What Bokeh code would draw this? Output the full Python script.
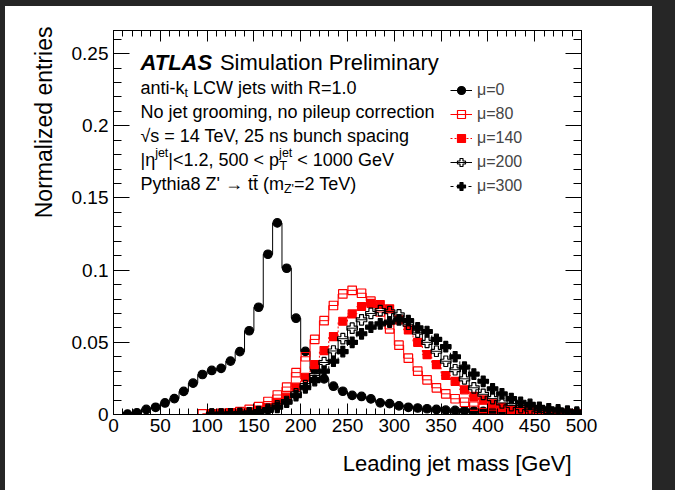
from bokeh.plotting import figure
from bokeh.models import (Range1d, LinearAxis, FixedTicker, Label, Legend, LegendItem,
                          CustomJSTickFormatter, Spacer, Title)
from bokeh.layouts import row, column
from bokeh.embed import file_html
from bokeh.resources import INLINE

# ---------------- data ----------------
bin_centers = list(range(5, 500, 10))   # 10 GeV bins, centres 5..495

mu0 = [0.0003, 0.0012, 0.0035, 0.005, 0.008, 0.011, 0.016, 0.0217, 0.0277, 0.0305,
       0.032, 0.037, 0.0436, 0.058, 0.0743, 0.111, 0.1327, 0.1013, 0.0667, 0.0437,
       0.031, 0.0247, 0.0196, 0.0161, 0.0132, 0.0125, 0.0108, 0.0081, 0.0075, 0.006,
       0.005, 0.0045, 0.004, 0.0035, 0.003, 0.0028, 0.0026, 0.0024, 0.0022, 0.0021,
       0.002, 0.0019, 0.0018, 0.0017, 0.0016, 0.0015, 0.0014, 0.0013, 0.0012]      # 15..495
mu80 = [0.0005, 0.0005, 0.0008, 0.0012, 0.002, 0.0035, 0.0055, 0.009, 0.0135, 0.019,
        0.029, 0.040, 0.052, 0.065, 0.0755, 0.0835, 0.086, 0.084, 0.0785, 0.071,
        0.0593, 0.048, 0.039, 0.030, 0.024, 0.0185, 0.0143, 0.0109, 0.0085, 0.0058,
        0.0042, 0.003, 0.0023, 0.0018, 0.0014, 0.0011, 0.0009, 0.0007, 0.0006, 0.0005,
        0.0004]                                                                      # 95..495
mu140 = [0.0003, 0.0005, 0.0007, 0.001, 0.0018, 0.003, 0.005, 0.0085, 0.012, 0.0189,
         0.0258, 0.0346, 0.0443, 0.054, 0.0646, 0.0697, 0.0748, 0.077, 0.0762, 0.0732,
         0.0656, 0.0586, 0.050, 0.0415, 0.0346, 0.027, 0.023, 0.0171, 0.0125, 0.0101,
         0.0074, 0.005, 0.0032, 0.0025, 0.002, 0.0015, 0.0012, 0.001, 0.0008, 0.0007]  # 105..495
mu200 = [0.0002, 0.0003, 0.0005, 0.0008, 0.0012, 0.002, 0.0035, 0.006, 0.009, 0.0143,
         0.020, 0.027, 0.036, 0.044, 0.0525, 0.0598, 0.0656, 0.070, 0.072, 0.0712,
         0.069, 0.0625, 0.057, 0.050, 0.0438, 0.0369, 0.031, 0.0247, 0.0185, 0.014,
         0.011, 0.008, 0.0062, 0.0048, 0.0037, 0.0028, 0.0022, 0.0017, 0.0013, 0.001]  # 105..495
mu300 = [0.0002, 0.0002, 0.0003, 0.0005, 0.0008, 0.0015, 0.0028, 0.005, 0.0085, 0.013,
         0.0185, 0.0235, 0.030, 0.0369, 0.0436, 0.050, 0.0559, 0.0605, 0.0628, 0.064,
         0.0656, 0.065, 0.060, 0.0575, 0.052, 0.047, 0.040, 0.0328, 0.028, 0.023,
         0.0178, 0.0143, 0.011, 0.0085, 0.007, 0.005, 0.004, 0.0032, 0.0023, 0.0016]   # 105..495

series_labels = ["\u03bc=0", "\u03bc=80", "\u03bc=140", "\u03bc=200", "\u03bc=300"]
series_values = [mu0, mu80, mu140, mu200, mu300]

x_ticks = [0, 50, 100, 150, 200, 250, 300, 350, 400, 450, 500]
x_minor = list(range(0, 501, 10))
y_ticks = [0, 0.05, 0.1, 0.15, 0.2, 0.25]
y_tick_labels = ["0", "0.05", "0.1", "0.15", "0.2", "0.25"]
y_minor = [round(0.01 * i, 2) for i in range(27)]

# ---------------- styles ----------------
FONT = "Liberation Sans"
DARK = "#262626"
styles = [
    dict(color="black", dash="solid", marker="circle", fill="black", size=8.5),
    dict(color="red", dash="solid", marker="square", fill=None, size=8.5),
    dict(color="red", dash="2 2", marker="square", fill="red", size=8),
    dict(color="black", dash="solid", marker="plus", fill=None, size=10.5),
    dict(color="black", dash="3 3", marker="plus", fill="black", size=10.5),
]

W, H = 647, 484
p = figure(width=W, height=H, x_range=Range1d(0, 500), y_range=Range1d(0, 0.266),
           output_backend="svg", toolbar_location=None,
           min_border_left=108, min_border_right=71, min_border_top=24, min_border_bottom=76)
p.xgrid.visible = False
p.ygrid.visible = False
p.outline_line_color = "black"
p.outline_line_width = 1
p.background_fill_color = "white"
p.border_fill_color = "white"

blank = CustomJSTickFormatter(code="return ''")

def style_axis(ax, major_in, minor_in, labels=True):
    ax.axis_line_color = "black"
    ax.major_tick_in = major_in
    ax.major_tick_out = 0
    ax.minor_tick_in = minor_in
    ax.minor_tick_out = 0
    ax.major_tick_line_color = "black"
    ax.minor_tick_line_color = "black"
    ax.major_label_text_font = FONT
    ax.major_label_text_color = "black"
    if labels:
        ax.major_label_text_font_size = "19px"
    else:
        ax.formatter = blank
        ax.major_label_text_font_size = "0px"
        ax.major_label_standoff = 0

xt = FixedTicker(ticks=x_ticks, minor_ticks=x_minor)
yt = FixedTicker(ticks=y_ticks, minor_ticks=y_minor)

p.xaxis.ticker = xt
p.yaxis.ticker = yt
p.yaxis.major_label_overrides = dict(zip(y_ticks, y_tick_labels))
style_axis(p.xaxis[0], 11, 6)
style_axis(p.yaxis[0], 16, 8)
p.xaxis.major_label_standoff = 4
p.yaxis.major_label_standoff = 5

top = LinearAxis(ticker=xt)
style_axis(top, 11, 6, labels=False)
p.add_layout(top, "above")
right = LinearAxis(ticker=yt)
style_axis(right, 16, 8, labels=False)
p.add_layout(right, "right")

# axis titles (ROOT style: right / top aligned)
p.add_layout(Title(text="Leading jet mass [GeV]", align="right", offset=10, standoff=29,
                   vertical_align="bottom",
                   text_font=FONT, text_font_size="22px", text_font_style="normal",
                   text_color="black"), "below")
p.add_layout(Title(text="Normalized entries", align="right", offset=-4, standoff=24,
                   text_font=FONT, text_font_size="23px", text_font_style="normal",
                   text_color="black"), "left")

# ---------------- histograms ----------------
items = []
for lab, vals, st in zip(series_labels, series_values, styles):
    xs = bin_centers[-len(vals):]
    lr = p.step(xs, vals, mode="center", line_color=st["color"], line_dash=st["dash"], line_width=1)
    sr = p.scatter(xs, vals, marker=st["marker"], size=st["size"], line_color=st["color"],
                   line_width=1.2,
                   fill_color=st["fill"] if st["fill"] else "white",
                   fill_alpha=1.0 if st["fill"] else 0.0)
    items.append(LegendItem(label=lab, renderers=[lr, sr]))

legend = Legend(items=items, location=(337, 218), padding=0, margin=0, spacing=4,
                glyph_width=22, glyph_height=20, label_height=20, label_standoff=5,
                label_text_font=FONT, label_text_font_size="16px",
                border_line_alpha=0, background_fill_alpha=0)
p.add_layout(legend)

# ---------------- text ----------------
ADV = {'a': 556, 'n': 556, 't': 278, 'i': 222, '-': 333, 'k': 500, '|': 260, '\u03b7': 556,
       'j': 222, 'e': 556, '<': 584, '1': 556, '.': 278, '2': 556, ',': 278, ' ': 278,
       '5': 556, '0': 556, 'p': 556, 'P': 667, 'y': 500, 'h': 556, '8': 556, 'Z': 611,
       "'": 191, '\u2192': 1000, '(': 333, 'm': 833, 'T': 611, '\u0304': 0}
ADV_BOLD = {'A': 722, 'T': 611, 'L': 611, 'S': 667, ' ': 278}
PX_PER_UNIT = 468 / 500.0

def wdata(s, size, table=ADV):
    return sum(table.get(c, 556) for c in s) / 1000.0 * size / PX_PER_UNIT

def txt(x, y, s, size, style="normal", dy=0):
    p.add_layout(Label(x=x, y=y, text=s, y_offset=dy, text_font=FONT,
                       text_font_size=f"{size}px", text_font_style=style,
                       text_align="left", text_baseline="middle", text_color="black"))

X0 = 28.8
S, SS = 18, 12.5
txt(X0, 0.2438, "ATLAS", 22, style="bold italic")
txt(X0 + wdata("ATLAS", 22, ADV_BOLD) + wdata(" ", 22), 0.2438, "Simulation Preliminary", 22)

# line 2
y2 = 0.2265
x = X0
txt(x, y2, "anti-k", S); x += wdata("anti-k", S)
txt(x, y2, "t", SS, dy=-5); x += wdata("t", SS) + wdata(" ", S)
txt(x, y2, "LCW jets with R=1.0", S)
# line 3
txt(X0, 0.2098, "No jet grooming, no pileup correction", S)
# line 4
txt(X0, 0.1932, "\u221as = 14 TeV, 25 ns bunch spacing", S)
# line 5
y5 = 0.1766
x = X0
txt(x, y5, "|\u03b7", S); x += wdata("|\u03b7", S)
txt(x, y5, "jet", SS, dy=7); x += wdata("jet", SS)
txt(x, y5, "|<1.2, 500 < p", S); x += wdata("|<1.2, 500 < p", S)
txt(x, y5, "jet", SS, dy=7)
txt(x + 0.3, y5, "T", SS, dy=-6); x += wdata("jet", SS) + wdata(" ", S)
txt(x, y5, "< 1000 GeV", S)
# line 6
y6 = 0.1600
x = X0
s6 = "Pythia8 Z' \u2192 tt\u0304 (m"
txt(x, y6, s6, S); x += wdata(s6, S)
txt(x, y6, "Z'", SS, dy=-5); x += wdata("Z'", SS)
txt(x, y6, "=2 TeV)", S)

# dark page surround of the reference screenshot
left_pad = Spacer(width=5, height=490, styles={"background-color": DARK})
top_pad = Spacer(width=W, height=6, styles={"background-color": DARK})
right_pad = Spacer(width=675 - 5 - W, height=490, styles={"background-color": DARK})
layout = row(left_pad, column(top_pad, p), right_pad)

open("out.html", "w").write(file_html(layout, INLINE))
